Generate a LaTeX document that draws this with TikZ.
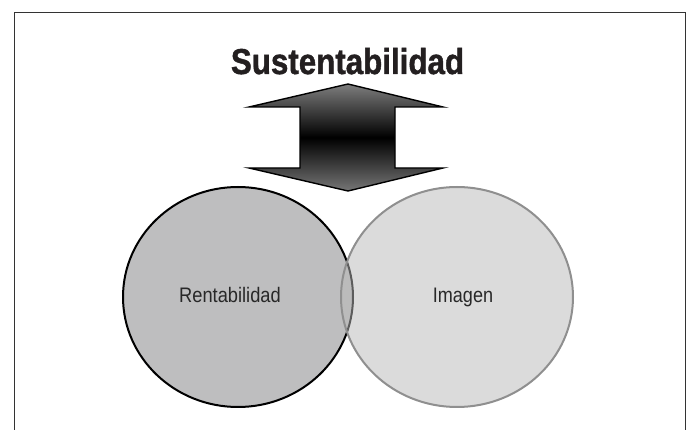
\documentclass[tikz,border=0pt]{standalone}
\usepackage{fontspec}
\setmainfont{Liberation Sans}
\newfontfamily\titlefont[FakeBold=1.3]{Liberation Sans Bold}
\usepackage{graphicx}
\begin{document}
\begin{tikzpicture}[x=1pt,y=-1pt,
  framestyle/.style={draw=black!80, line width=0.9pt},
  leftcircle/.style={fill=leftgray, draw=black, line width=2pt},
  rightcircle/.style={fill=rightgray, fill opacity=0.5, draw=rimgray, draw opacity=1, line width=2pt},
  titletext/.style={font=\titlefont\fontsize{36}{40}\selectfont, text=titlecol, inner sep=0pt, anchor=base},
  labeltext/.style={font=\fontsize{21}{24}\selectfont, text=labelcol, inner sep=0pt, anchor=base},
  arrowshape/.style={draw=black, line width=1.4pt, line join=miter, top color=arrtop, bottom color=arrbot, middle color=black}
]
\definecolor{leftgray}{RGB}{190,190,191}
\definecolor{rightgray}{RGB}{185,185,185}
\definecolor{rimgray}{RGB}{143,143,143}
\definecolor{titlecol}{RGB}{35,31,32}
\definecolor{labelcol}{RGB}{40,40,40}
\definecolor{arrtop}{RGB}{125,125,125}
\definecolor{arrbot}{RGB}{118,118,118}
\useasboundingbox (0,0) rectangle (686,430);
\fill[white] (0,0) rectangle (686,430);
\draw[framestyle] (14,430) -- (14,12) -- (685,12) -- (685,430);
% circles
\path[leftcircle] (238,297) ellipse [x radius=115, y radius=110];
\path[rightcircle] (457,297) ellipse [x radius=116, y radius=110];
% double arrow
\path[arrowshape] (348,84) -- (443,107) -- (395,107) -- (395,168) -- (443,168)
   -- (348,191) -- (249,168) -- (300,168) -- (300,107) -- (249,107) -- cycle;
% texts
\node[titletext] (title) at (347.5,74) {\scalebox{0.87}[1]{Sustentabilidad}};
\node[labeltext] (rent) at (230,303) {\scalebox{0.87}[1]{Rentabilidad}};
\node[labeltext] (imag) at (463,303) {\scalebox{0.86}[1]{Imagen}};
\end{tikzpicture}
\end{document}
